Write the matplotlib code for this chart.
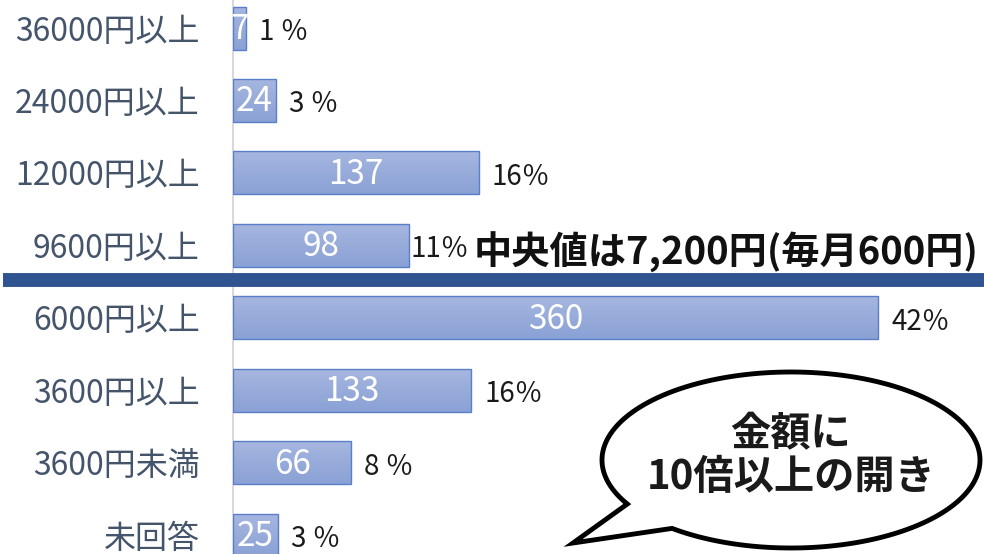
import numpy as np
import matplotlib
matplotlib.use("Agg")
import matplotlib.pyplot as plt
from matplotlib.path import Path
from matplotlib.patches import PathPatch
from matplotlib.colors import LinearSegmentedColormap

plt.rcParams['font.family'] = ['Noto Sans CJK JP', 'DejaVu Sans']

categories = ['36000円以上', '24000円以上', '12000円以上', '9600円以上',
              '6000円以上', '3600円以上', '3600円未満', '未回答']
counts = [7, 24, 137, 98, 360, 133, 66, 25]
pct_labels = ['1 ％', '3 ％', '16％', '11％', '42％', '16％', '8 ％', '3 ％']

median_text = '中央値は7,200円(毎月600円)'
bubble_text = '金額に\n10倍以上の開き'

W, H = 984, 554
fig = plt.figure(figsize=(W / 100, H / 100), dpi=100)

# main bar axes
ax = fig.add_axes([233 / W, 0, 1 - 233 / W, 1])
y = np.arange(len(categories))
bars = ax.barh(y, counts, height=0.594, color='none', edgecolor='#5b7ec8', linewidth=1.0, zorder=3)

grad = np.linspace(0, 1, 64).reshape(-1, 1)
cmap = LinearSegmentedColormap.from_list('bar', ['#a6b7e0', '#8aa1d5'])
for b in bars:
    x0, y0 = b.get_x(), b.get_y()
    im = ax.imshow(grad, extent=[x0, x0 + b.get_width(), y0 + b.get_height(), y0],
                   aspect='auto', cmap=cmap, zorder=2, interpolation='bilinear')
    im.set_clip_path(b)

ax.set_xlim(0, 751 / 1.792)
ax.set_ylim(7.262, -0.387)

ax.set_yticks(y, categories)
ax.tick_params(axis='y', length=0, pad=24, labelsize=23, labelcolor='#44546a')
ax.set_xticks([])
for s in ['top', 'right', 'bottom']:
    ax.spines[s].set_visible(False)
ax.spines['left'].set_color('#d9d9d9')
ax.spines['left'].set_linewidth(1.5)

for i, (b, v, p) in enumerate(zip(bars, counts, pct_labels)):
    ax.text(b.get_width() / 2, i + 0.02, str(v), ha='center', va='center',
            color='white', fontsize=24, zorder=4)
    pad = 2 if i == 3 else 13
    ax.annotate(p, (b.get_width(), i), xytext=(pad, -4), textcoords='offset pixels',
                ha='left', va='center', fontsize=20, color='#1a1a1a', zorder=4)

# overlay for the median line, text and the speech bubble
ov = fig.add_axes([0, 0, 1, 1])
ov.set_xlim(0, W)
ov.set_ylim(H, 0)
ov.axis('off')
ov.patch.set_alpha(0)

ov.plot([3, W], [280, 280], color='#2f5491', linewidth=10, solid_capstyle='butt')
ov.text(474, 252, median_text, ha='left', va='center', fontsize=27.5,
        fontweight='bold', color='#111111')

cx, cy, a, bb = 791, 460, 189, 88
t = np.radians(np.linspace(150, 129 + 360, 200))
xs = cx + a * np.cos(t)
ys = cy + bb * np.sin(t)
verts = list(zip(xs, ys)) + [(573, 543), (xs[0], ys[0])]
codes = [Path.MOVETO] + [Path.LINETO] * (len(verts) - 2) + [Path.CLOSEPOLY]
ov.add_patch(PathPatch(Path(verts, codes), facecolor='white', edgecolor='black',
                       linewidth=3.5, joinstyle='miter'))
ov.text(791, 456, bubble_text, ha='center', va='center', fontsize=29,
        fontweight='bold', color='#1a1a1a', linespacing=1.05)

fig.savefig('out.png', dpi=100)
